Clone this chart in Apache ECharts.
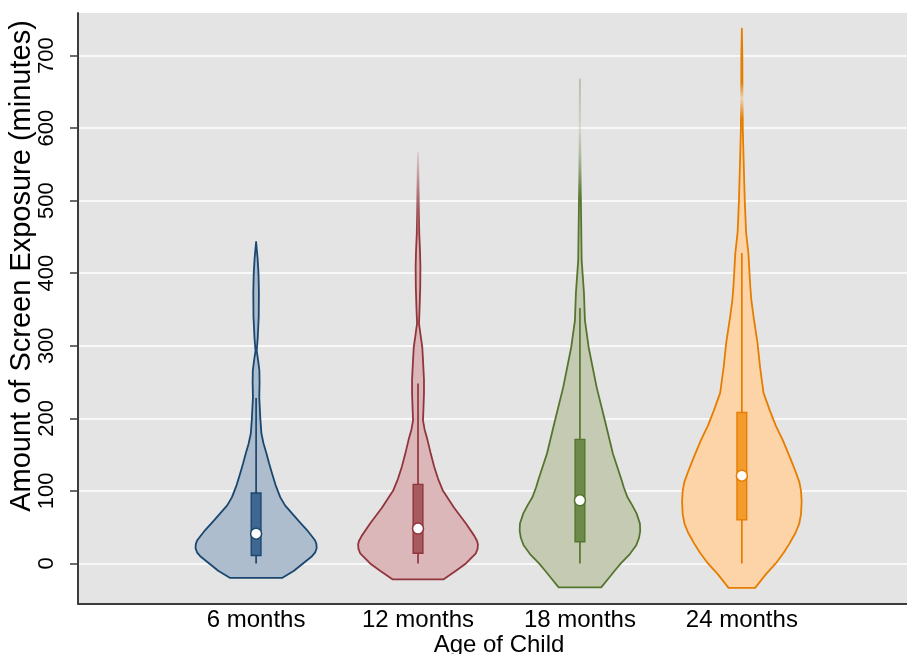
<!DOCTYPE html>
<html><head><meta charset="utf-8">
<script src="https://cdn.jsdelivr.net/npm/echarts@6/dist/echarts.min.js"></script>
<style>html,body{margin:0;padding:0;background:#fff}#c{width:907px;height:654px}</style>
</head><body><div id="c"></div>
<script>
// ---------- data ----------
const categories = ['6 months', '12 months', '18 months', '24 months'];
const catPositions = [1, 2, 3, 4];
const yTickValues = [0, 100, 200, 300, 400, 500, 600, 700];

// kernel density profiles: [minutes, relative density (1 = widest)]
const profile6 = [[-20,0.426],[-10,0.623],[0,0.770],[10,0.918],[15,0.968],[21,0.995],[27,0.99],[32,0.967],[46,0.836],[58,0.705],[69,0.590],[80,0.475],[91,0.398],[108,0.320],[124,0.262],[138,0.213],[152,0.169],[165,0.123],[179,0.087],[200,0.069],[229,0.052],[250,0.057],[266,0.054],[280,0.033],[293,0.010],[310,0.026],[340,0.043],[373,0.046],[400,0.039],[420,0.025],[443,0]];
const profile12 = [[-22,0.415],[-10,0.623],[0,0.787],[14,0.950],[20,0.978],[26,0.984],[31,0.970],[38,0.925],[55,0.787],[77,0.590],[101,0.405],[117,0.328],[133,0.267],[150,0.213],[170,0.156],[185,0.107],[197,0.082],[215,0.090],[235,0.098],[253,0.098],[275,0.085],[298,0.070],[315,0.041],[331,0.016],[350,0.025],[380,0.036],[409,0.039],[430,0.033],[455,0.020],[500,0.013],[566,0]];
const profile18 = [[-33,0.349],[-20,0.475],[-9.7,0.574],[0,0.672],[13,0.820],[25,0.925],[35,0.970],[45,0.990],[55,0.985],[69,0.930],[80,0.860],[91.5,0.779],[105,0.720],[115,0.684],[151.5,0.541],[197,0.410],[243,0.274],[298,0.143],[335,0.082],[373,0.066],[418,0.028],[497,0.016],[543,0.010],[600,0.007],[667,0]];
const profile24 = [[-33.6,0.218],[-15,0.393],[0,0.557],[15,0.690],[27,0.779],[42,0.880],[55,0.943],[68,0.972],[85,0.982],[100,0.972],[112,0.945],[126,0.885],[142,0.810],[170,0.672],[190,0.557],[211,0.459],[235,0.356],[270,0.300],[304,0.257],[340,0.192],[363,0.156],[381,0.139],[428,0.107],[456,0.070],[497,0.049],[543,0.033],[598,0.016],[650,0.010],[700,0.008],[737,0]];

// box plot statistics (minutes)
const q1 = [11, 14, 30, 60];
const medians = [41, 48, 87, 121];
const q3 = [97, 109, 171, 208];
const whiskerLow = [0, 0, 0, 0];
const whiskerHigh = [228, 248, 352, 428];

// ---------- styles ----------
const palette = [
  {line:'#1a476f', fill:'#aebdcd', box:'#3f6790'},
  {line:'#90353b', fill:'#dcb7b9', box:'#a65a5f'},
  {line:'#55752f', fill:'#c5cbb2', box:'#6c8b4a'},
  {line:'#e57d00', fill:'#fdd3a8', box:'#f39b2c'}
];
// stroke fade along thin tails: [minutes, opacity]
const tailFade = [
  [],
  [[566,0.1],[455,1]],
  [[667,0.35],[600,0.04],[560,0.3],[500,1]],
  [[737,1],[662,1],[640,0.1],[612,1]]
];
const MAX_HW = 0.376;   // axis units for relative density 1
const BOX_HW = 0.03;
const FONT = 'Liberation Sans, Arial, Helvetica, sans-serif';

const profiles = [profile6, profile12, profile18, profile24];

function rgba(hex, a) {
  const n = parseInt(hex.slice(1), 16);
  return 'rgba(' + (n >> 16 & 255) + ',' + (n >> 8 & 255) + ',' + (n & 255) + ',' + a + ')';
}

function renderItem(params, api) {
  const i = params.dataIndex;
  const x = api.value(0);
  const prof = profiles[i];
  const pal = palette[i];
  const right = prof.map(p => api.coord([x + p[1] * MAX_HW, p[0]]));
  const left = prof.slice().reverse().map(p => api.coord([x - p[1] * MAX_HW, p[0]]));
  const pts = right.concat(left);
  const topPix = api.coord([x, prof[prof.length - 1][0]])[1];
  const botPix = api.coord([x, prof[0][0]])[1];
  let stroke = pal.line;
  if (tailFade[i].length) {
    const stops = tailFade[i].map(f => ({
      offset: Math.max(0, Math.min(1, (api.coord([x, f[0]])[1] - topPix) / (botPix - topPix))),
      color: rgba(pal.line, f[1])
    }));
    stops.sort((a, b) => a.offset - b.offset);
    stops.push({offset: 1, color: rgba(pal.line, 1)});
    stroke = new echarts.graphic.LinearGradient(0, 0, 0, 1, stops);
  }
  const wl = api.coord([x, whiskerLow[i]]);
  const wh = api.coord([x, whiskerHigh[i]]);
  const b1 = api.coord([x - BOX_HW, q3[i]]);
  const b2 = api.coord([x + BOX_HW, q1[i]]);
  const m = api.coord([x, medians[i]]);
  return {
    type: 'group',
    children: [
      {type: 'polygon', shape: {points: pts}, style: {fill: pal.fill, stroke: stroke, lineWidth: 1.8, lineJoin: 'round'}},
      {type: 'line', shape: {x1: wl[0], y1: wl[1], x2: wh[0], y2: wh[1]}, style: {stroke: pal.line, lineWidth: 1.7}},
      {type: 'rect', shape: {x: b1[0], y: b1[1], width: b2[0] - b1[0], height: b2[1] - b1[1]}, style: {fill: pal.box, stroke: pal.line, lineWidth: 1.4}},
      {type: 'circle', shape: {cx: m[0], cy: m[1], r: 5.5}, style: {fill: '#ffffff', stroke: pal.line, lineWidth: 1.5}}
    ]
  };
}

const chart = echarts.init(document.getElementById('c'), null, {renderer: 'canvas'});
chart.setOption({
  animation: false,
  backgroundColor: '#ffffff',
  grid: {left: 78, right: 0, top: 13, bottom: 50.5, show: true, backgroundColor: '#e4e4e4', borderWidth: 0},
  xAxis: {
    type: 'value', min: -0.1, max: 5.02,
    axisLine: {show: true, onZero: false, lineStyle: {color: '#3c3c3c', width: 2}},
    axisTick: {show: false},
    splitLine: {show: false},
    axisLabel: {
      customValues: catPositions, margin: 5,
      formatter: v => categories[catPositions.indexOf(v)] || '',
      color: '#000', fontSize: 24, fontFamily: FONT
    }
  },
  yAxis: {
    type: 'value', min: -55.2, max: 758.6,
    axisLine: {show: true, onZero: false, lineStyle: {color: '#3c3c3c', width: 2}},
    axisTick: {show: true, customValues: yTickValues, length: 8, lineStyle: {color: '#3c3c3c', width: 1.5}},
    splitLine: {show: true, lineStyle: {color: '#ffffff', width: 1.6}},
    axisLabel: {customValues: yTickValues, rotate: 90, margin: 20, color: '#000', fontSize: 22, fontFamily: FONT}
  },
  graphic: [
    {type: 'text', x: 22, y: 266, rotation: Math.PI / 2,
     style: {text: 'Amount of Screen Exposure (minutes)', font: '29px ' + FONT, fill: '#000', textAlign: 'center', textVerticalAlign: 'middle'}},
    {type: 'text', x: 499, y: 645,
     style: {text: 'Age of Child', font: '24px ' + FONT, fill: '#000', textAlign: 'center', textVerticalAlign: 'middle'}}
  ],
  series: [{
    type: 'custom',
    renderItem: renderItem,
    data: catPositions.map((p, i) => [p, i]),
    encode: {x: 0, y: -1},
    clip: false
  }]
});
</script>
</body></html>
